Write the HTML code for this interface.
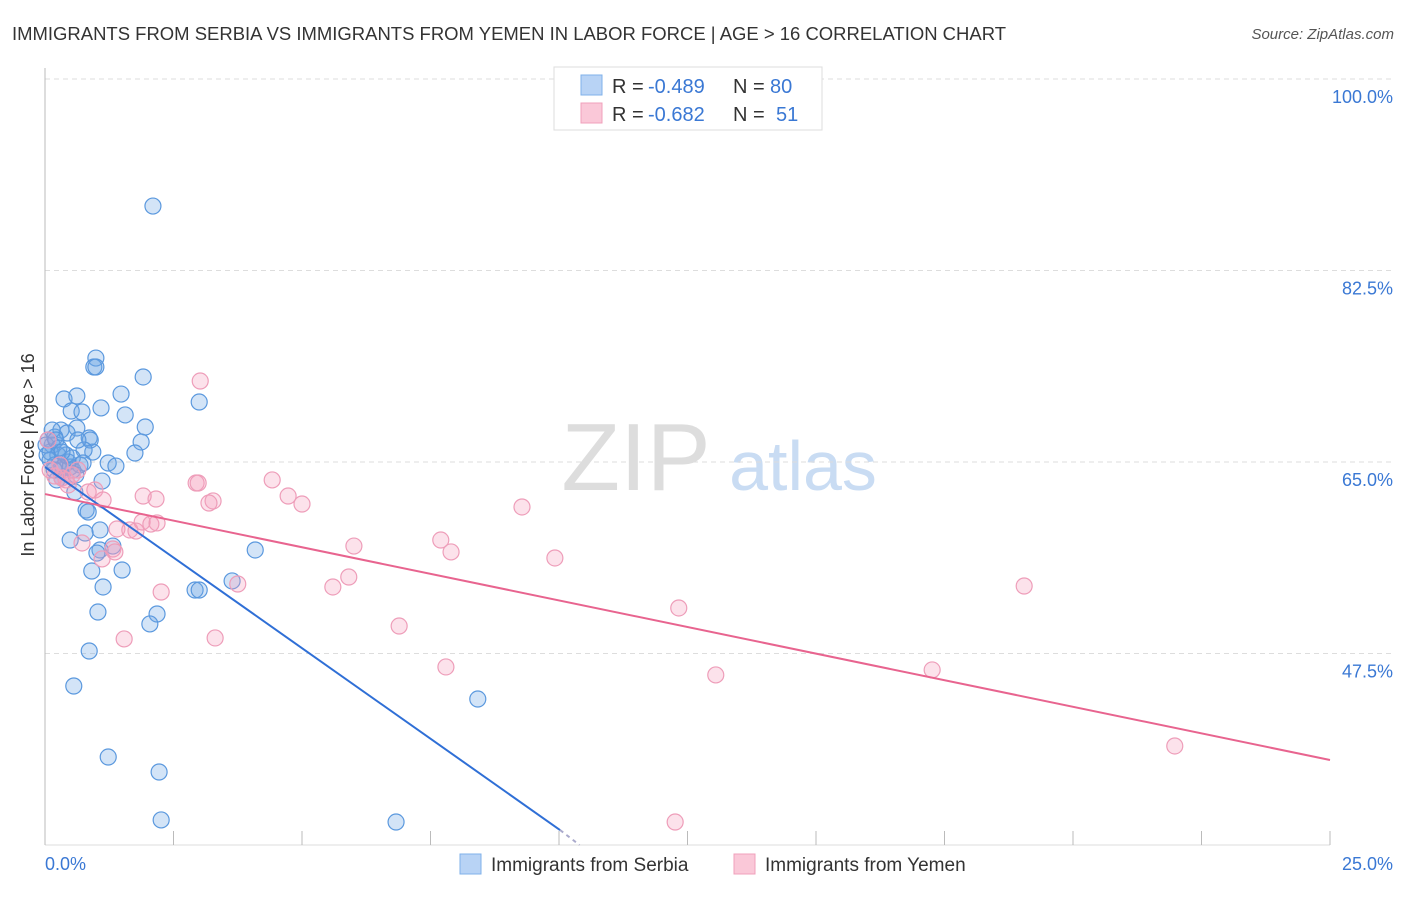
<!DOCTYPE html>
<html><head><meta charset="utf-8"><style>
body{margin:0;background:#fff;font-family:"Liberation Sans",sans-serif}
svg text{font-family:"Liberation Sans",sans-serif}
</style></head><body>
<svg id="chart" width="1406" height="892" viewBox="0 0 1406 892" xmlns="http://www.w3.org/2000/svg">
<text x="12" y="40" font-size="18" fill="#333" textLength="994" lengthAdjust="spacingAndGlyphs">IMMIGRANTS FROM SERBIA VS IMMIGRANTS FROM YEMEN IN LABOR FORCE | AGE &gt; 16 CORRELATION CHART</text>
<text x="1394" y="39" font-size="15" fill="#555" font-style="italic" text-anchor="end">Source: ZipAtlas.com</text>
<g>
<text x="636" y="490" font-size="96" fill="#ddd" font-family="Liberation Serif,serif" text-anchor="middle">ZIP</text>
<text x="803" y="490" font-size="70" fill="#c9dcf3" text-anchor="middle">atlas</text>
</g>
<g id="grid"></g>
<g id="axes"></g>
<g id="pts"></g>
<g id="lines"></g>
<g>
<rect x="554" y="67" width="268" height="63" fill="#fff" stroke="#ddd"/>
<rect x="581" y="75" width="21" height="20" fill="#b8d3f5" stroke="#7fb0ea"/>
<rect x="581" y="103" width="21" height="20" fill="#fac8d8" stroke="#f0a0bb"/>
<text x="612" y="93" font-size="20" fill="#333">R =</text>
<text x="648" y="93" font-size="20" fill="#3a78d4">-0.489</text>
<text x="733" y="93" font-size="20" fill="#333">N =</text>
<text x="770" y="93" font-size="20" fill="#3a78d4">80</text>
<text x="612" y="121" font-size="20" fill="#333">R =</text>
<text x="648" y="121" font-size="20" fill="#3a78d4">-0.682</text>
<text x="733" y="121" font-size="20" fill="#333">N =</text>
<text x="776" y="121" font-size="20" fill="#3a78d4">51</text>
</g>
<text transform="translate(34,455) rotate(-90)" font-size="18" fill="#333" text-anchor="middle">In Labor Force | Age &gt; 16</text>
<g>
<rect x="460" y="854" width="21" height="20" fill="#b8d3f5" stroke="#7fb0ea"/>
<text x="491" y="871" font-size="19" fill="#333">Immigrants from Serbia</text>
<rect x="734" y="854" width="21" height="20" fill="#fac8d8" stroke="#f0a0bb"/>
<text x="765" y="871" font-size="19" fill="#333">Immigrants from Yemen</text>
</g>
</svg>
<script>
const yTicks=[100,82.5,65,47.5];
const yTickLabels=["100.0%","82.5%","65.0%","47.5%"];
const xTickCount=10;
const xMin=0,xMax=25,yMin=30,yMax=100;
const serbiaX=[2.10,0.99,0.95,0.99,1.91,1.48,0.37,0.62,3.00,0.51,1.09,0.72,1.56,1.95,0.31,0.62,0.86,0.88,1.87,0.43,0.19,0.14,0.10,0.25,1.75,0.93,0.76,1.23,1.38,0.45,0.54,1.11,0.58,0.33,0.80,0.84,1.07,0.78,0.49,1.32,1.07,1.01,0.91,1.50,4.09,3.64,2.92,3.00,1.13,1.03,2.18,2.04,0.86,0.56,8.42,1.23,2.22,2.26,6.83,0.29,0.06,0.10,0.19,0.35,0.49,0.68,0.02,0.14,0.21,0.41,0.53,0.64,0.74,0.27,0.33,0.04,0.18,0.60,0.23];
const serbiaY=[88.39,74.50,73.68,73.68,72.77,71.21,70.76,71.03,70.48,69.66,69.94,69.57,69.30,68.20,67.92,68.11,67.19,67.01,66.83,67.65,67.28,66.55,65.91,65.64,65.82,65.91,66.10,64.91,64.63,65.00,64.27,63.26,62.26,63.54,60.61,60.43,58.79,58.51,57.87,57.32,56.96,56.68,55.04,55.13,56.96,54.13,53.30,53.30,53.58,51.29,51.11,50.20,47.73,44.53,43.34,38.04,36.67,32.29,32.10,64.27,67.01,65.18,64.73,64.54,64.54,64.73,66.55,67.92,67.01,65.64,65.37,67.01,64.91,66.28,65.91,65.64,64.27,63.81,63.36];
const yemenX=[3.02,4.42,2.94,2.98,4.73,5.00,3.27,3.19,9.28,1.91,2.16,0.97,1.13,0.84,0.45,0.33,0.19,0.10,0.06,0.64,1.40,1.65,1.77,1.89,2.06,2.18,1.32,1.36,0.72,1.11,6.01,7.70,7.90,9.92,5.91,5.60,3.75,2.26,12.33,19.05,6.89,1.54,3.31,7.80,13.05,17.26,21.98,12.26,0.29,0.53,0.41];
const yemenY=[72.40,63.36,63.08,63.08,61.89,61.16,61.44,61.25,60.89,61.89,61.62,62.44,61.53,62.26,62.90,63.54,63.72,64.27,67.01,64.27,58.88,58.79,58.69,59.52,59.33,59.43,57.05,56.78,57.60,56.14,57.32,57.87,56.78,56.23,54.49,53.58,53.85,53.12,51.66,53.67,50.01,48.83,48.92,46.27,45.54,46.00,39.05,32.10,64.73,63.81,63.36];
const serbiaTrend=[[0,64.54],[10.02,31.37]];
const serbiaTrendDash=[[10.02,31.37],[10.4,30.0]];
const yemenTrend=[[0,62.07],[25,37.77]];
const NS="http://www.w3.org/2000/svg";
const L=45,R=1330,T=79,B=845;
function sx(v){return L+(v-xMin)/(xMax-xMin)*(R-L);}
function sy(v){return 79+(100-v)/17.5*191.5;}
function mk(tag,attrs,parent){const e=document.createElementNS(NS,tag);for(const k in attrs)e.setAttribute(k,attrs[k]);parent.appendChild(e);return e;}
const grid=document.getElementById('grid'),axes=document.getElementById('axes'),pts=document.getElementById('pts'),lines=document.getElementById('lines');
yTicks.forEach((t,i)=>{
 const g=mk('line',{x1:L,x2:1394,y1:sy(t),y2:sy(t),stroke:'#ddd','stroke-dasharray':'5,4'},grid);
 
 
 const tx=mk('text',{x:1393,y:sy(t)+24,'font-size':18,fill:'#3a78d4','text-anchor':'end'},axes);
 tx.textContent=yTickLabels[i];
 
 
});
const ya=mk('line',{x1:L,x2:L,y1:68,y2:B,stroke:'#bbb'},axes);


const xa=mk('line',{x1:L,x2:R,y1:B,y2:B,stroke:'#ddd'},axes);


for(let i=0;i<=xTickCount;i++){
 const x=sx(xMin+i*(xMax-xMin)/xTickCount);
 const tk=mk('line',{x1:x,x2:x,y1:831,y2:B,stroke:'#bbb'},axes);
 
 
}
const xl0=mk('text',{x:45,y:870,'font-size':18,fill:'#3a78d4'},axes);xl0.textContent=xMin.toFixed(1)+'%';


const xl1=mk('text',{x:1393,y:870,'font-size':18,fill:'#3a78d4','text-anchor':'end'},axes);xl1.textContent=xMax.toFixed(1)+'%';


function dots(xs,ys,fill,stroke,name){
 xs.forEach((x,i)=>{
  const c=mk('circle',{cx:sx(x),cy:sy(ys[i]),r:8,fill:fill,stroke:stroke,'stroke-width':1.2},pts);
  
  
 });
}
dots(serbiaX,serbiaY,'rgba(110,165,230,0.3)','#5a98de','serbia-point');
dots(yemenX,yemenY,'rgba(245,160,190,0.3)','#ee9db9','yemen-point');
function line(p,col,name,dash){
 const l=mk('line',{x1:sx(p[0][0]),y1:sy(p[0][1]),x2:sx(p[1][0]),y2:sy(p[1][1]),stroke:col,'stroke-width':2},lines);
 if(dash)l.setAttribute('stroke-dasharray','4,4');
 
 
}
line(serbiaTrend,'#2f6fd6','serbia-trend-line');
line(serbiaTrendDash,'#aac','serbia-trend-extension',true);
line(yemenTrend,'#e8648f','yemen-trend-line');
</script>
</body></html>
